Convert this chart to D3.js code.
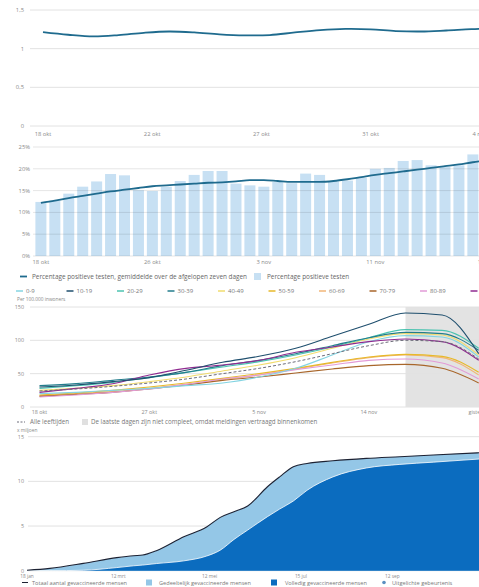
<!DOCTYPE html>
<html><head><meta charset="utf-8">
<script src="https://cdn.jsdelivr.net/npm/d3@7"></script>
<style>
html,body{margin:0;padding:0;background:#fff;overflow:hidden}
svg{display:block;font-family:"Open Sans","Noto Sans",sans-serif}
</style></head><body>
<svg id="c" width="479" height="587"></svg>
<script>
// ---------- Panel 1: reproductiegetal ----------
const rValues = [1.214,1.18,1.158,1.175,1.205,1.222,1.21,1.185,1.172,1.176,1.21,1.24,1.255,1.25,1.228,1.222,1.235,1.252,1.262];
const rYTicks = [0, 0.5, 1, 1.5];
const rTickLabels = ["18 okt","22 okt","27 okt","31 okt","4 nov"];

// ---------- Panel 2: percentage positieve testen ----------
const posBars = [12.4,12.7,14.3,15.9,17.1,18.8,18.5,15.1,14.9,15.9,17.2,18.6,19.5,19.5,16.6,16.2,15.9,17.0,16.7,18.9,18.6,17.1,17.3,17.9,20.0,20.2,21.8,22.0,20.8,20.4,20.8,23.3,22.5];
const posAvg = [12.2,12.7,13.3,13.8,14.3,14.8,15.2,15.6,16.0,16.2,16.4,16.6,16.8,16.9,17.1,17.4,17.4,17.2,17.0,17.0,17.0,17.2,17.6,18.1,18.6,19.0,19.4,19.8,20.2,20.6,21.0,21.5,21.9];
const posYTicks = [0,5,10,15,20,25];
const posTickLabels = ["18 okt","26 okt","3 nov","11 nov","19 nov"];

// ---------- Panel 3: meldingen per leeftijdsgroep ----------
const ageDays = [0,3,6,9,12,15,18,21,24,27,30,33,36];
const ageGroups = ["0-9","10-19","20-29","30-39","40-49","50-59","60-69","70-79","80-89","90+"];
const age0_9   = [20,22,25,28,32,36,45,58,78,98,107,105,75];
const age10_19 = [30,33,38,44,55,67,76,88,106,124,141,138,80];
const age20_29 = [28,32,37,44,52,60,68,78,90,104,116,115,88];
const age30_39 = [32,35,40,45,52,62,70,80,92,104,112,110,85];
const age40_49 = [25,28,32,38,45,54,63,74,88,102,110,108,78];
const age50_59 = [18,21,25,30,36,43,50,58,67,75,79,76,52];
const age60_69 = [17,20,23,28,34,41,48,57,66,74,78,74,48];
const age70_79 = [16,19,22,27,33,40,45,51,57,62,64,58,36];
const age80_89 = [15,18,22,27,34,42,48,56,63,70,72,66,42];
const age90p   = [22,28,35,48,58,63,70,82,90,98,102,98,70];
const ageAll   = [24,27,31,36,42,50,58,68,80,92,100,98,72];
const ageYTicks = [0,50,100,150];
const ageTickLabels = ["18 okt","27 okt","5 nov","14 nov","gisteren"];

// ---------- Panel 4: vaccinaties ----------
const vacDays  = [0,15,37,59,70,76,85,103,118,127,136,145,158,166,175,184,201,223,245,267,297];
const vacTotal = [0.05,0.26,0.82,1.46,1.68,1.75,2.24,3.8,4.9,5.97,6.6,7.24,9.4,10.5,11.64,12.0,12.3,12.57,12.76,12.95,13.2];
const vacFull  = [0,0,0.05,0.35,0.55,0.63,0.8,1.1,1.64,2.3,3.5,4.55,6.05,6.9,7.8,9.0,10.5,11.5,11.9,12.15,12.5];
const vacYTicks = [0,5,10,15];
const vacTickLabels = ["18 jan","12 mrt","12 mei","15 jul","12 sep"];

// ---------- styles ----------
const ageColors = ["#84d4e2","#1f4f6e","#4cc3b0","#237d8c","#f1dc6e","#e7b92a","#f2b678","#a8662b","#e29bd7","#8f2b90"];
const txt = "#8a8a8a", grid = "#e2e2e2", lineBlue = "#1f6b8e";

const svg = d3.select("#c");
const W = 479;

function yAxis(g, scale, ticks, fmt, xLab, x0, fs) {
  g.selectAll(null).data(ticks).join("line")
    .attr("x1", x0).attr("x2", W).attr("y1", d => scale(d)).attr("y2", d => scale(d))
    .attr("stroke", grid).attr("stroke-width", 1);
  g.selectAll(null).data(ticks).join("text")
    .attr("x", xLab).attr("y", d => scale(d)).attr("dy", "0.35em")
    .attr("text-anchor", "end").attr("font-size", fs).attr("fill", txt).text(fmt);
}
function xLabels(g, labels, xpos, y, fs) {
  g.selectAll(null).data(labels).join("text")
    .attr("x", (d, i) => xpos(i)).attr("y", y).attr("text-anchor", "middle")
    .attr("font-size", fs).attr("fill", txt).text(d => d);
}

// ===== Panel 1 =====
{
  const g = svg.append("g");
  const x = d3.scaleLinear([0, 18], [43, 496.6]);
  const y = d3.scaleLinear([0, 1.5], [126, 10]);
  yAxis(g, y, rYTicks, d => String(d).replace(".", ","), 24, 30, 5.8);
  g.append("path").datum(rValues)
    .attr("d", d3.line().x((d, i) => x(i)).y(d => y(d)).curve(d3.curveCatmullRom))
    .attr("fill", "none").attr("stroke", lineBlue).attr("stroke-width", 1.8);
  xLabels(g, rTickLabels, i => x(i * 13 / 3), 135.5, 5.8);
}

// ===== Panel 2 =====
{
  const g = svg.append("g");
  const x = d3.scaleBand(d3.range(posBars.length), [34, 34 + 33 * 13.93]).paddingInner(0.21).paddingOuter(0.1);
  const y = d3.scaleLinear([0, 25], [256, 147]);
  g.selectAll(null).data(posBars).join("rect")
    .attr("x", (d, i) => x(i)).attr("width", x.bandwidth())
    .attr("y", d => y(d)).attr("height", d => y(0) - y(d)).attr("fill", "#c7e0f3");
  g.selectAll(null).data(posYTicks).join("line")
    .attr("x1", 33).attr("x2", W).attr("y1", d => y(d)).attr("y2", d => y(d))
    .attr("stroke", "rgba(0,0,0,0.1)");
  g.selectAll(null).data(posYTicks).join("text")
    .attr("x", 30).attr("y", d => y(d)).attr("dy", "0.35em").attr("text-anchor", "end")
    .attr("font-size", 5.8).attr("fill", txt).text(d => d + "%");
  g.append("path").datum(posAvg)
    .attr("d", d3.line().x((d, i) => x(i) + x.bandwidth() / 2).y(d => y(d)).curve(d3.curveMonotoneX))
    .attr("fill", "none").attr("stroke", lineBlue).attr("stroke-width", 1.8);
  xLabels(g, posTickLabels, i => x(i * 8) + x.bandwidth() / 2, 263.5, 5.8);
  // legend
  g.append("line").attr("x1", 20).attr("x2", 27).attr("y1", 276.5).attr("y2", 276.5).attr("stroke", lineBlue).attr("stroke-width", 1.8);
  g.append("text").attr("x", 32).attr("y", 278.8).attr("font-size", 6.4).attr("fill", "#666")
    .text("Percentage positieve testen, gemiddelde over de afgelopen zeven dagen");
  g.append("rect").attr("x", 254).attr("y", 273).attr("width", 7).attr("height", 7).attr("fill", "#c7e0f3");
  g.append("text").attr("x", 267).attr("y", 278.8).attr("font-size", 6.4).attr("fill", "#666")
    .text("Percentage positieve testen");
}

// ===== Panel 3 =====
{
  const g = svg.append("g");
  const x = d3.scaleLinear([0, 36], [39.5, 478.7]);
  const y = d3.scaleLinear([0, 150], [407, 307]);
  g.append("rect").attr("x", x(30)).attr("y", y(150)).attr("width", W - x(30)).attr("height", y(0) - y(150)).attr("fill", "#e3e3e3");
  yAxis(g, y, ageYTicks, d => d, 24, 30, 5.4);
  const series = [age0_9, age10_19, age20_29, age30_39, age40_49, age50_59, age60_69, age70_79, age80_89, age90p];
  const line = d3.line().x((d, i) => x(ageDays[i])).y(d => y(d)).curve(d3.curveMonotoneX);
  const order = [6, 5, 4, 7, 8, 0, 2, 3, 9, 1];
  order.forEach(k => {
    g.append("path").datum(series[k]).attr("d", line)
      .attr("fill", "none").attr("stroke", ageColors[k]).attr("stroke-width", 1.1);
  });
  g.append("path").datum(ageAll).attr("d", line)
    .attr("fill", "none").attr("stroke", "#6d6d7a").attr("stroke-width", 1).attr("stroke-dasharray", "3,2");
  xLabels(g, ageTickLabels, i => x(i * 9), 414, 5.4);
  // top legend
  const lg = g.selectAll(null).data(ageGroups).join("g").attr("transform", (d, i) => `translate(${16 + i * 50.5},291)`);
  lg.append("line").attr("x1", 0).attr("x2", 7).attr("y1", 0).attr("y2", 0).attr("stroke", (d, i) => ageColors[i]).attr("stroke-width", 1.5);
  lg.append("text").attr("x", 10).attr("y", 2).attr("font-size", 6).attr("fill", "#777").text(d => d);
  g.append("text").attr("x", 17).attr("y", 300.5).attr("font-size", 4.8).attr("fill", "#888").text("Per 100.000 inwoners");
  // bottom legend
  g.append("line").attr("x1", 17).attr("x2", 25).attr("y1", 422).attr("y2", 422).attr("stroke", "#6d6d7a").attr("stroke-dasharray", "2,1.5");
  g.append("text").attr("x", 30).attr("y", 424).attr("font-size", 6.2).attr("fill", "#777").text("Alle leeftijden");
  g.append("rect").attr("x", 82).attr("y", 419).attr("width", 6).attr("height", 6).attr("fill", "#e0e0e0");
  g.append("text").attr("x", 91).attr("y", 424).attr("font-size", 6.2).attr("fill", "#777")
    .text("De laatste dagen zijn niet compleet, omdat meldingen vertraagd binnenkomen");
}

// ===== Panel 4 =====
{
  const g = svg.append("g");
  const x = d3.scaleLinear([0, 297], [27, 479]);
  const y = d3.scaleLinear([0, 15], [570.7, 436.7]);
  g.append("text").attr("x", 17).attr("y", 431.5).attr("font-size", 4.8).attr("fill", "#888").text("x miljoen");
  yAxis(g, y, vacYTicks, d => String(d), 24, 28, 5.4);
  const pts = vacDays.map((d, i) => ({ d, t: vacTotal[i], f: vacFull[i] }));
  g.append("path").datum(pts)
    .attr("d", d3.area().x(p => x(p.d)).y0(y(0)).y1(p => y(p.t)).curve(d3.curveMonotoneX))
    .attr("fill", "#94c7e7");
  g.append("path").datum(pts)
    .attr("d", d3.area().x(p => x(p.d)).y0(y(0)).y1(p => y(p.f)).curve(d3.curveMonotoneX))
    .attr("fill", "#0b6cbf");
  g.append("path").datum(pts)
    .attr("d", d3.line().x(p => x(p.d)).y(p => y(p.f)).curve(d3.curveMonotoneX))
    .attr("fill", "none").attr("stroke", "#fff").attr("stroke-width", 0.8);
  g.append("path").datum(pts)
    .attr("d", d3.line().x(p => x(p.d)).y(p => y(p.t)).curve(d3.curveMonotoneX))
    .attr("fill", "none").attr("stroke", "#1d2233").attr("stroke-width", 1.1);
  xLabels(g, vacTickLabels, i => x(i * 60), 578.3, 4.8);
  // legend
  const ly = 584.5;
  g.append("line").attr("x1", 22).attr("x2", 28).attr("y1", ly - 2).attr("y2", ly - 2).attr("stroke", "#1d2233");
  g.append("text").attr("x", 32).attr("y", ly).attr("font-size", 5.6).attr("fill", "#777").text("Totaal aantal gevaccineerde mensen");
  g.append("rect").attr("x", 146).attr("y", ly - 5).attr("width", 6).attr("height", 6).attr("fill", "#94c7e7");
  g.append("text").attr("x", 159).attr("y", ly).attr("font-size", 5.6).attr("fill", "#777").text("Gedeeltelijk gevaccineerde mensen");
  g.append("rect").attr("x", 271).attr("y", ly - 5).attr("width", 6).attr("height", 6).attr("fill", "#0b6cbf");
  g.append("text").attr("x", 285).attr("y", ly).attr("font-size", 5.6).attr("fill", "#777").text("Volledig gevaccineerde mensen");
  g.append("circle").attr("cx", 384).attr("cy", ly - 2).attr("r", 1.8).attr("fill", "#5a8fc0");
  g.append("text").attr("x", 392).attr("y", ly).attr("font-size", 5.6).attr("fill", "#777").text("Uitgelichte gebeurtenis");
}
</script>
</body></html>
